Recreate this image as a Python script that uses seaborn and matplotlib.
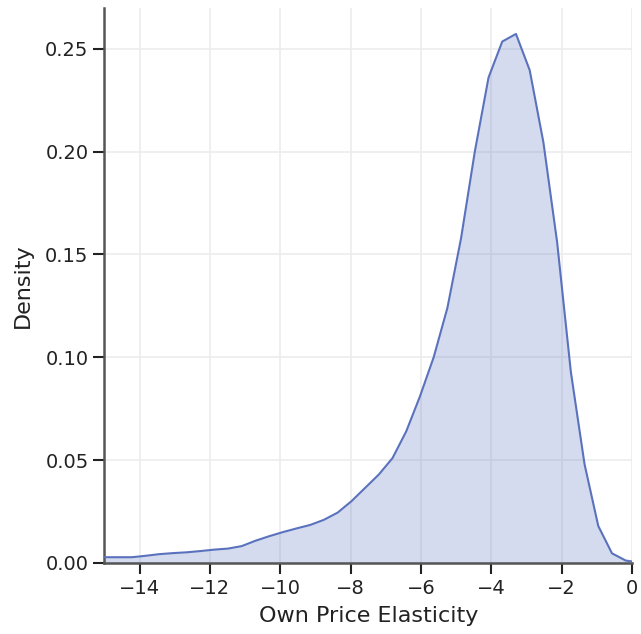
import numpy as np
import pandas as pd
import matplotlib
matplotlib.use("Agg")
import matplotlib.pyplot as plt
import seaborn as sns

elasticity = [-15.0, -14.61, -14.22, -13.83, -13.44, -13.05, -12.66, -12.27, -11.88, -11.49,
              -11.10, -10.71, -10.32, -9.93, -9.54, -9.15, -8.76, -8.37, -7.98, -7.59,
              -7.20, -6.81, -6.42, -6.03, -5.64, -5.25, -4.86, -4.47, -4.08, -3.69,
              -3.30, -2.91, -2.52, -2.13, -1.74, -1.35, -0.96, -0.57, -0.18, 0.21]
density = [0.0028, 0.0028, 0.0028, 0.0035, 0.0043, 0.0048, 0.0052, 0.0058, 0.0065, 0.0070,
           0.0082, 0.0108, 0.0130, 0.0150, 0.0168, 0.0185, 0.0210, 0.0245, 0.0300, 0.0365,
           0.0430, 0.0510, 0.0640, 0.0810, 0.1000, 0.1240, 0.1580, 0.2000, 0.2360, 0.2535,
           0.2572, 0.2396, 0.2045, 0.1560, 0.0930, 0.0480, 0.0180, 0.0047, 0.0012, 0.0002]
xticks = [-14, -12, -10, -8, -6, -4, -2, 0]
yticks = [0.00, 0.05, 0.10, 0.15, 0.20, 0.25]

df = pd.DataFrame({"x": elasticity, "y": density})

sns.set_theme(style="ticks")
plt.rcParams["font.family"] = ["DejaVu Sans"]

color = "#5a72bd"
fig, ax = plt.subplots(figsize=(6.41, 6.34), dpi=100)
ax.grid(True, color="#ececec", linewidth=1.2, zorder=0)
ax.set_axisbelow(True)
sns.lineplot(data=df, x="x", y="y", ax=ax, color=color, linewidth=1.5, zorder=3)
ax.fill_between(df["x"], df["y"], 0, color=color, alpha=0.25, linewidth=0, zorder=2)

ax.set_xlim(-15, 0)
ax.set_ylim(0, 0.27)
ax.set_xticks(xticks)
ax.set_xticklabels([f"\u2212{abs(t)}" if t < 0 else f"{t}" for t in xticks])
ax.set_yticks(yticks)
ax.set_yticklabels([f"{t:.2f}" for t in yticks])
ax.set_xlabel("Own Price Elasticity", fontsize=16, color="#222222", labelpad=6)
ax.set_ylabel("Density", fontsize=16, color="#222222", labelpad=9)
ax.tick_params(axis="both", labelsize=14, length=8, width=1.5, colors="#222222", direction="out")
for s in ["top", "right"]:
    ax.spines[s].set_visible(False)
for s in ["left", "bottom"]:
    ax.spines[s].set_color("#555555")
    ax.spines[s].set_linewidth(1.8)

fig.subplots_adjust(left=0.163, right=0.986, top=0.988, bottom=0.112)
fig.savefig("out.png", dpi=100)
